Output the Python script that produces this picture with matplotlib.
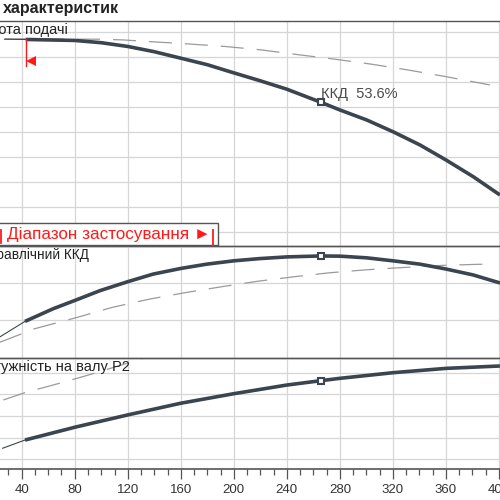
import matplotlib
matplotlib.use("Agg")
import matplotlib.pyplot as plt
from matplotlib.patches import Rectangle
from matplotlib.lines import Line2D
from matplotlib.ticker import MultipleLocator

plt.rcParams['font.family'] = ['Liberation Sans', 'DejaVu Sans']

# ---------------- data ----------------
# flow axis
q_ticks = [40, 80, 120, 160, 200, 240, 280, 320, 360, 400]
q_min = 43            # start of the application range
q_duty = 265.5        # duty point

# head curve (solid, within range) and its thin extension
q_head = [43, 80, 100, 120, 140, 160, 180, 197.1, 219.7, 240, 265.5, 280, 300.2, 320,
          340.4, 360, 380.6, 400.7]
head = [7.69, 7.65, 7.56, 7.41, 7.20, 6.94, 6.68, 6.40, 6.04, 5.70, 5.18, 4.87, 4.47, 4.00,
        3.47, 2.87, 2.20, 1.47]
q_head_ext = [27, 43]
head_ext = [7.70, 7.69]
# head curve (dashed)
q_head_max = [27.4, 98.3, 116.8, 137.9, 165.8, 193.3, 221.0, 248.6, 276.3, 303.9, 331.3, 359.2, 393.2]
head_max = [7.71, 7.70, 7.67, 7.60, 7.51, 7.41, 7.27, 7.08, 6.90, 6.70, 6.47, 6.21, 5.87]
head_duty = 5.18

# hydraulic efficiency
q_eff = [42.5, 63.8, 80, 99.1, 120, 139.3, 160, 179.5, 200, 219.7, 240, 265.5, 280, 300.2,
         320, 340.4, 360, 380.6, 400.8]
eff = [19.5, 26.3, 30.7, 36.0, 40.8, 44.9, 47.9, 50.2, 52.0, 53.2, 54.1, 54.6, 54.5, 53.6,
       52.0, 50.2, 47.6, 44.4, 40.1]
q_eff_ext = [23.6, 42.5]
eff_ext = [11.2, 19.5]
q_eff_max = [23.6, 50, 82.7, 108.3, 136.0, 163.2, 190.9, 217.7, 246.1, 272.5, 300.2, 327.8,
             355.5, 383.2, 391.9]
eff_max = [8.3, 15.6, 21.8, 27.0, 31.4, 34.9, 38.1, 41.0, 43.5, 45.6, 47.2, 48.4, 49.5, 50.1, 50.2]
eff_duty = 54.6
eff_label = "ККД  53.6%"

# shaft power P2
q_pow = [42.5, 80, 120, 160, 200, 240, 265.5, 280, 320, 360, 400.7]
power = [1.89, 2.48, 3.05, 3.59, 4.03, 4.43, 4.63, 4.74, 5.00, 5.20, 5.31]
q_pow_ext = [25.6, 42.5]
power_ext = [1.51, 1.89]
q_pow_max = [26.1, 42.5, 70.2, 90.2, 119.2, 131.7]
power_max = [3.74, 4.08, 4.54, 4.89, 5.43, 5.67]
power_duty = 4.63

title = "характеристик"
label_head = "Висота подачі"
label_eff = "Гідравлічний ККД"
label_pow = "Потужність на валу P2"
label_range = "Діапазон застосування ►"

# ---------------- styles ----------------
DARK = '#3a4550'
GRID = '#d6d6d6'
SEP = '#555555'
DASH = '#9a9a9a'
RED = '#ff1a1a'
W = 500.0

def fx(px):
    return px / W

def fy(py):
    return 1 - py / W

XLIM = (23.63, 400.77)

fig = plt.figure(figsize=(5, 5), dpi=100)

def panel(top_px, bot_px, ylim, yticks):
    ax = fig.add_axes([0, fy(bot_px), 1, (bot_px - top_px) / W])
    ax.set_xlim(*XLIM)
    ax.set_ylim(*ylim)
    ax.set_xticks(q_ticks)
    ax.set_yticks(yticks)
    ax.grid(True, color=GRID, lw=0.9)
    ax.set_axisbelow(True)
    for s in ('left', 'right'):
        ax.spines[s].set_visible(False)
    for s in ('top', 'bottom'):
        ax.spines[s].set_color(SEP)
        ax.spines[s].set_linewidth(1.0)
    ax.tick_params(axis='y', length=0, labelleft=False)
    ax.tick_params(axis='x', which='both', length=0, labelbottom=False)
    ax.set_facecolor('none')
    return ax

ax1 = panel(20.7, 246, (-0.572, 8.44), [0, 1, 2, 3, 4, 5, 6, 7, 8])
ax2 = panel(246, 357.7, (0, 59.95), [20, 40])
ax3 = panel(357.7, 469.3, (0.538, 5.693), [1, 2, 3, 4, 5])

dash_kw = dict(color=DASH, lw=0.9, dashes=(18.4, 10.4))
solid_kw = dict(color=DARK, lw=2.6, solid_capstyle='butt', solid_joinstyle='round')
ext_kw = dict(color=DARK, lw=0.8)
mark_kw = dict(marker='s', ms=3.8, mfc='white', mec=DARK, mew=1.5, zorder=6)

# head panel
ax1.plot(q_head_max, head_max, **dash_kw)
ax1.plot(q_head_ext, head_ext, **ext_kw)
ax1.plot(q_head, head, **solid_kw)
ax1.plot([q_duty], [head_duty], **mark_kw)
ax1.plot([q_min, q_min], [head[0], 6.63], color=RED, lw=1.0)
ax1.plot([47.2], [6.82], marker='<', ms=7.7, color=RED, mew=0)
ax1.text(q_duty + 0.6, head_duty + 0.18, eff_label, fontsize=10.5, color='#4a4a4a',
         ha='left', va='baseline')

# efficiency panel
ax2.plot(q_eff_max, eff_max, **dash_kw)
ax2.plot(q_eff_ext, eff_ext, **ext_kw)
ax2.plot(q_eff, eff, **solid_kw)
ax2.plot([q_duty], [eff_duty], **mark_kw)

# power panel
ax3.plot(q_pow_max, power_max, **dash_kw)
ax3.plot(q_pow_ext, power_ext, **ext_kw)
ax3.plot(q_pow, power, **solid_kw)
ax3.plot([q_duty], [power_duty], **mark_kw)

ax3.xaxis.set_minor_locator(MultipleLocator(10))
ax3.tick_params(axis='x', which='major', length=7, width=0.9, color=SEP,
                labelbottom=True, labelsize=9.5, labelcolor='#333333', pad=3.5,
                direction='out')
ax3.tick_params(axis='x', which='minor', length=4.5, width=0.9, color=SEP, direction='out')
ax3.spines['bottom'].set_linewidth(1.2)

# texts
fig.text(fx(3.3), fy(12.7), title, fontsize=11.5, fontweight='bold', color='#222222',
         ha='left', va='baseline')
fig.text(fx(68), fy(34.3), label_head, fontsize=10.5, color='#222222', ha='right', va='baseline')
fig.text(fx(89), fy(259.3), label_eff, fontsize=9.8, color='#222222', ha='right', va='baseline')
fig.text(fx(130), fy(370.7), label_pow, fontsize=10.5, color='#222222', ha='right', va='baseline')

# application range box
fig.add_artist(Rectangle((fx(-5), fy(245)), fx(218.3 + 5), (245 - 223.3) / W,
                         transform=fig.transFigure, facecolor='white', edgecolor=SEP,
                         lw=1.0, zorder=5))
fig.text(fx(7.3), fy(238.8), label_range, fontsize=12.3, color=RED, ha='left',
         va='baseline', zorder=6)
fig.add_artist(Line2D([fx(213.3), fx(213.3)], [fy(245), fy(230)], transform=fig.transFigure,
                      color=RED, lw=1.3, zorder=6))
fig.add_artist(Line2D([fx(1.2), fx(1.2)], [fy(243), fy(230)], transform=fig.transFigure,
                      color=RED, lw=1.3, zorder=6))

fig.savefig("out.png", dpi=100)
